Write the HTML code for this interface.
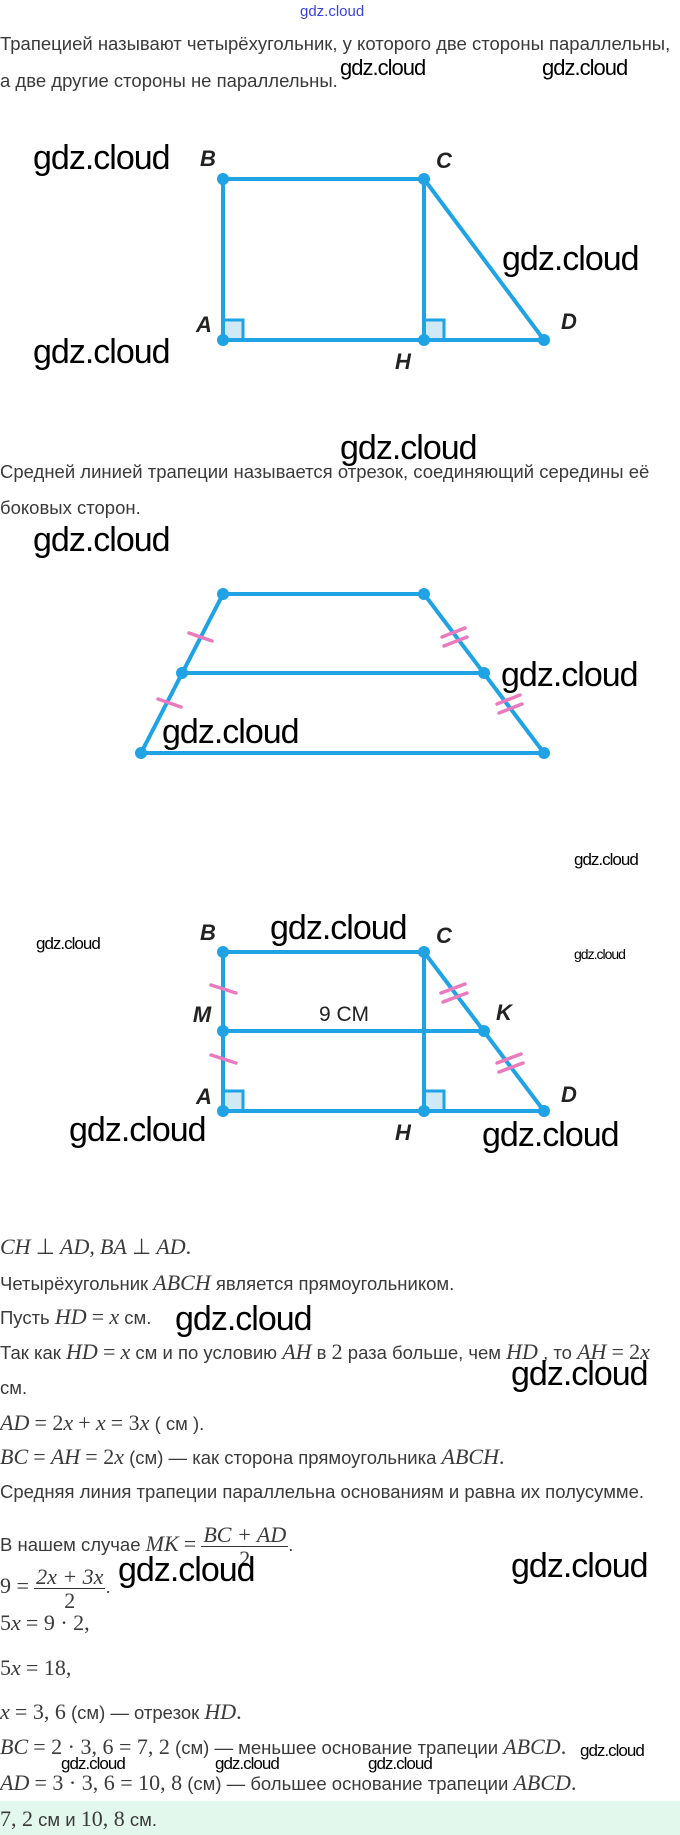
<!DOCTYPE html>
<html><head><meta charset="utf-8"><style>
body{margin:0;width:680px;height:1835px;position:relative;background:#fff;overflow:hidden;font-family:"Liberation Sans",sans-serif;color:#3a3a3a}
.t{position:absolute;left:0;white-space:nowrap;font-size:18.5px;line-height:20px}
.m{font-family:"Liberation Serif",serif;font-style:italic;font-size:22px}
.n{font-family:"Liberation Serif",serif;font-size:22px}
.w{position:absolute;white-space:nowrap;color:#000;font-family:"Liberation Sans",sans-serif;letter-spacing:-1px}
.big{font-size:34px;line-height:40px}
.med{font-size:22px;line-height:26px}
.sm{font-size:17px;line-height:20px}
.xs{font-size:14px;line-height:16px}
svg{position:absolute;left:0;top:0}
.fr{display:inline-block;vertical-align:middle;text-align:center;font-family:"Liberation Serif",serif;font-style:italic;font-size:22px;line-height:23px}
.fr span{display:block;padding:0 2px}
.fr span:first-child{border-bottom:1px solid #333}
</style></head><body>

<div class="w" style="left:300px;top:3px;font-size:15px;color:#3844d8;letter-spacing:0">gdz.cloud</div>
<div class="t" style="top:34px">Трапецией называют четырёхугольник, у которого две стороны параллельны,</div>
<div class="t" style="top:71px">а две другие стороны не параллельны.</div>
<div class="w med" style="left:340px;top:55px">gdz.cloud</div>
<div class="w med" style="left:542px;top:55px">gdz.cloud</div>

<svg width="680" height="1835" viewBox="0 0 680 1835">
<g stroke="#1fa3e4" stroke-width="4" fill="none" stroke-linecap="round">
<rect x="223" y="320" width="20" height="20" fill="#cfe9f7" stroke-width="3"/>
<rect x="424" y="320" width="20" height="20" fill="#cfe9f7" stroke-width="3"/>
<polyline points="223,340 223,179 424,179 544,340 223,340"/>
<line x1="424" y1="179" x2="424" y2="340"/>
<polygon points="223,594 424,594 544,753 141,753"/>
<line x1="182" y1="673" x2="484" y2="673"/>
<rect x="223" y="1091" width="20" height="20" fill="#cfe9f7" stroke-width="3"/>
<rect x="424" y="1091" width="20" height="20" fill="#cfe9f7" stroke-width="3"/>
<polyline points="223,1111 223,952 424,952 544,1111 223,1111"/>
<line x1="424" y1="952" x2="424" y2="1111"/>
<line x1="223" y1="1031" x2="484" y2="1031"/>
</g>
<g fill="#1fa3e4">
<circle cx="223" cy="179" r="6"/><circle cx="424" cy="179" r="6"/><circle cx="223" cy="340" r="6"/><circle cx="424" cy="340" r="6"/><circle cx="544" cy="340" r="6"/>
<circle cx="223" cy="594" r="6"/><circle cx="424" cy="594" r="6"/><circle cx="182" cy="673" r="6"/><circle cx="484" cy="673" r="6"/><circle cx="141" cy="753" r="6"/><circle cx="544" cy="753" r="6"/>
<circle cx="223" cy="952" r="6"/><circle cx="424" cy="952" r="6"/><circle cx="223" cy="1031" r="6"/><circle cx="484" cy="1031" r="6"/><circle cx="223" cy="1111" r="6"/><circle cx="424" cy="1111" r="6"/><circle cx="544" cy="1111" r="6"/>
</g>
<g stroke="#e97bbd" stroke-width="3.5" stroke-linecap="round">
<line x1="189" y1="633" x2="212" y2="641"/>
<line x1="158" y1="699" x2="181" y2="707"/>
<line x1="442" y1="637" x2="465" y2="628"/><line x1="444" y1="646" x2="467" y2="637"/>
<line x1="497" y1="704" x2="520" y2="695"/><line x1="499" y1="713" x2="522" y2="704"/>
<line x1="211" y1="985" x2="236" y2="993"/>
<line x1="211" y1="1055" x2="236" y2="1063"/>
<line x1="441" y1="993" x2="465" y2="984"/><line x1="443" y1="1002" x2="467" y2="993"/>
<line x1="497" y1="1063" x2="521" y2="1054"/><line x1="499" y1="1072" x2="523" y2="1063"/>
</g>
<g font-family="Liberation Sans, sans-serif" font-style="italic" font-weight="bold" font-size="22" fill="#222" text-anchor="middle">
<text x="208" y="166">B</text><text x="444" y="168">C</text><text x="204" y="332">A</text><text x="569" y="329">D</text><text x="403" y="369">H</text>
<text x="208" y="940">B</text><text x="444" y="943">C</text><text x="202" y="1022">M</text><text x="504" y="1020">K</text><text x="204" y="1104">A</text><text x="569" y="1102">D</text><text x="403" y="1140">H</text>
</g>
<text x="344" y="1021" font-family="Liberation Sans, sans-serif" font-size="21" fill="#222" text-anchor="middle">9 СМ</text>
</svg>

<div class="w big" style="left:33px;top:138px">gdz.cloud</div>
<div class="w big" style="left:502px;top:239px">gdz.cloud</div>
<div class="w big" style="left:33px;top:332px">gdz.cloud</div>

<div class="w big" style="left:340px;top:428px">gdz.cloud</div>
<div class="t" style="top:462px">Средней линией трапеции называется отрезок, соединяющий середины её</div>
<div class="t" style="top:498px">боковых сторон.</div>
<div class="w big" style="left:33px;top:520px">gdz.cloud</div>
<div class="w big" style="left:501px;top:655px">gdz.cloud</div>
<div class="w big" style="left:162px;top:712px">gdz.cloud</div>

<div class="w sm" style="left:574px;top:850px">gdz.cloud</div>
<div class="w sm" style="left:36px;top:934px">gdz.cloud</div>
<div class="w xs" style="left:574px;top:946px">gdz.cloud</div>
<div class="w big" style="left:270px;top:908px">gdz.cloud</div>
<div class="w big" style="left:69px;top:1110px">gdz.cloud</div>
<div class="w big" style="left:482px;top:1115px">gdz.cloud</div>

<div class="t" style="top:1237px"><span class="m">CH</span> <span class="n">⊥</span> <span class="m">AD</span><span class="n">,</span> <span class="m">BA</span> <span class="n">⊥</span> <span class="m">AD</span><span class="n">.</span></div>
<div class="t" style="top:1273px">Четырёхугольник <span class="m">ABCH</span> является прямоугольником.</div>
<div class="t" style="top:1307px">Пусть <span class="m">HD</span> <span class="n">=</span> <span class="m">x</span> см.</div>
<div class="w big" style="left:175px;top:1299px">gdz.cloud</div>
<div class="t" style="top:1342px">Так как <span class="m">HD</span> <span class="n">=</span> <span class="m">x</span> см и по условию <span class="m">AH</span> в <span class="n">2</span> раза больше, чем <span class="m">HD</span> , то <span class="m">AH</span> <span class="n">=</span> <span class="n">2</span><span class="m">x</span></div>
<div class="w big" style="left:511px;top:1354px">gdz.cloud</div>
<div class="t" style="top:1378px">см.</div>
<div class="t" style="top:1413px"><span class="m">AD</span> <span class="n">= 2</span><span class="m">x</span> <span class="n">+</span> <span class="m">x</span> <span class="n">= 3</span><span class="m">x</span> ( см ).</div>
<div class="t" style="top:1447px"><span class="m">BC</span> <span class="n">=</span> <span class="m">AH</span> <span class="n">= 2</span><span class="m">x</span> (см) — как сторона прямоугольника <span class="m">ABCH</span><span class="n">.</span></div>
<div class="t" style="top:1482px">Средняя линия трапеции параллельна основаниям и равна их полусумме.</div>
<div class="t" style="top:1520px;line-height:48px">В нашем случае <span class="m">MK</span> <span class="n">=</span> <span class="fr"><span>BC + AD</span><span style="font-style:normal">2</span></span>.</div>
<div class="t" style="top:1562px;line-height:48px"><span class="n">9 =</span> <span class="fr"><span>2x + 3x</span><span style="font-style:normal">2</span></span>.</div>
<div class="w big" style="left:118px;top:1550px">gdz.cloud</div>
<div class="w big" style="left:511px;top:1546px">gdz.cloud</div>
<div class="t" style="top:1613px"><span class="n">5</span><span class="m">x</span> <span class="n">= 9 · 2,</span></div>
<div class="t" style="top:1658px"><span class="n">5</span><span class="m">x</span> <span class="n">= 18,</span></div>
<div class="t" style="top:1702px"><span class="m">x</span> <span class="n">= 3, 6</span> (см) — отрезок <span class="m">HD</span><span class="n">.</span></div>
<div class="t" style="top:1737px"><span class="m">BC</span> <span class="n">= 2 · 3, 6 = 7, 2</span> (см) — меньшее основание трапеции <span class="m">ABCD</span><span class="n">.</span></div>
<div class="t" style="top:1773px"><span class="m">AD</span> <span class="n">= 3 · 3, 6 = 10, 8</span> (см) — большее основание трапеции <span class="m">ABCD</span><span class="n">.</span></div>
<div class="w sm" style="left:61px;top:1754px">gdz.cloud</div>
<div class="w sm" style="left:215px;top:1754px">gdz.cloud</div>
<div class="w sm" style="left:368px;top:1754px">gdz.cloud</div>
<div class="w sm" style="left:580px;top:1741px">gdz.cloud</div>
<div style="position:absolute;left:0;top:1801px;width:680px;height:34px;background:#e3f8ec"></div>
<div class="t" style="top:1809px"><span class="n">7, 2</span> см и <span class="n">10, 8</span> см.</div>
</body></html>
